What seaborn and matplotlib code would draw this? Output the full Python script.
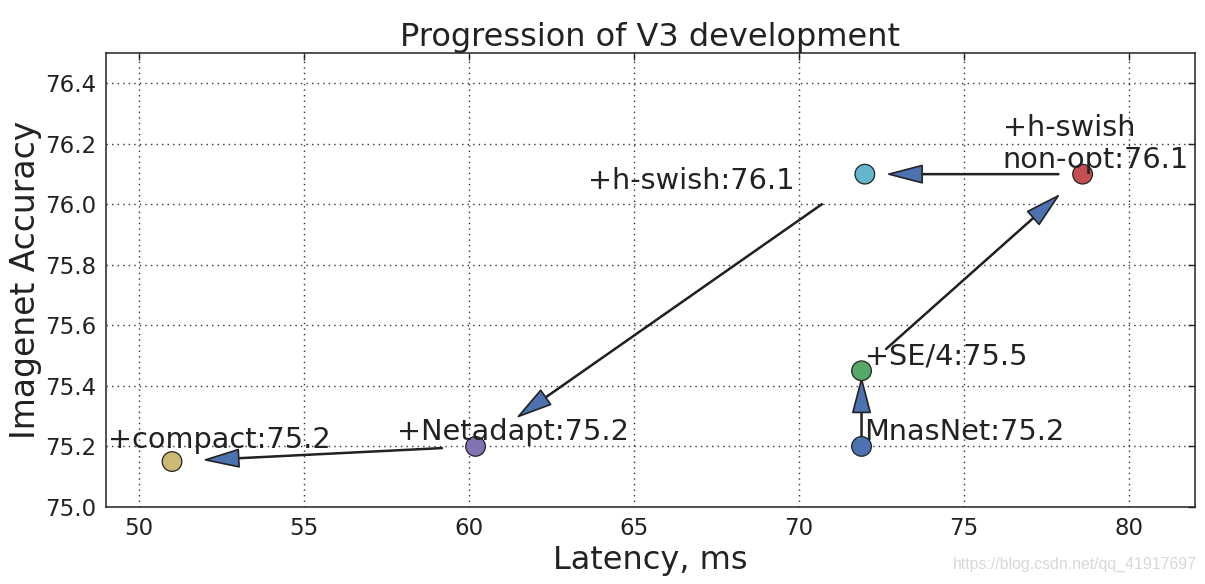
import numpy as np
import pandas as pd
import seaborn as sns
import matplotlib
matplotlib.use('Agg')
import matplotlib.pyplot as plt

# models in order of the development steps (arrows go from one to the next)
models = ['MnasNet', '+SE/4', '+h-swish non-opt', '+h-swish', '+Netadapt', '+compact']
latency = [71.9, 71.9, 78.6, 72.0, 60.2, 51.0]
accuracy = [75.2, 75.45, 76.1, 76.1, 75.2, 75.15]
labels = ['MnasNet:75.2', '+SE/4:75.5', '+h-swish\nnon-opt:76.1',
          '+h-swish:76.1', '+Netadapt:75.2', '+compact:75.2']

# where each label sits (data coords, left/baseline of last line)
label_x = [71.99, 71.99, 76.18, 63.62, 57.83, 49.06]
label_y = [75.22, 75.47, 76.12, 76.05, 75.22, 75.195]

deep6 = sns.color_palette('deep6')
pal = dict(zip(models, [deep6[i] for i in [0, 1, 2, 5, 3, 4]]))
ink = '#222222'

df = pd.DataFrame({'model': models, 'latency': latency, 'accuracy': accuracy})

sns.set_style('white')
fig = plt.figure(figsize=(12.05, 5.84), dpi=100)
ax = fig.add_axes([0.088, 0.132, 0.9035, 0.777])

sns.scatterplot(data=df, x='latency', y='accuracy', hue='model', palette=pal,
                s=200, edgecolor=ink, linewidth=0.9, legend=False, ax=ax, zorder=4)

for i in range(len(models) - 1):
    ax.annotate('', xy=(latency[i + 1], accuracy[i + 1]), xytext=(latency[i], accuracy[i]),
                arrowprops=dict(facecolor=deep6[0], edgecolor=ink, lw=1.2, shrink=0.11,
                                width=0.6, headwidth=12.5, headlength=24), zorder=3)

for lx, ly, t in zip(label_x, label_y, labels):
    ax.text(lx, ly, t, fontsize=20.7, color=ink, ha='left', va='baseline',
            linespacing=1.17, zorder=5)

ax.set_xlim(49, 82)
ax.set_ylim(75.0, 76.5)
ax.set_xticks([50, 55, 60, 65, 70, 75, 80])
ax.set_yticks(np.arange(75.0, 76.41, 0.2))
ax.set_yticklabels(['%.1f' % v for v in np.arange(75.0, 76.41, 0.2)])
ax.grid(True, color='#333333', linestyle=(0, (1, 3)), linewidth=1.0)
ax.tick_params(direction='in', top=True, right=True, length=5, width=1,
               labelsize=16.5, labelcolor=ink, color=ink, pad=7)
for sp in ax.spines.values():
    sp.set_color(ink)
    sp.set_linewidth(1.1)

ax.set_title('Progression of V3 development', fontsize=23, color=ink, pad=5)
ax.set_xlabel('Latency, ms', fontsize=23, color=ink, labelpad=4)
ax.set_ylabel('Imagenet Accuracy', fontsize=23.7, color=ink, labelpad=2)

fig.text(0.993, 0.02, 'https://blog.csdn.net/qq_41917697', fontsize=11.4,
         color='#d8d8d8', ha='right', va='bottom', family='Liberation Sans')

fig.savefig('out.png', dpi=100)
